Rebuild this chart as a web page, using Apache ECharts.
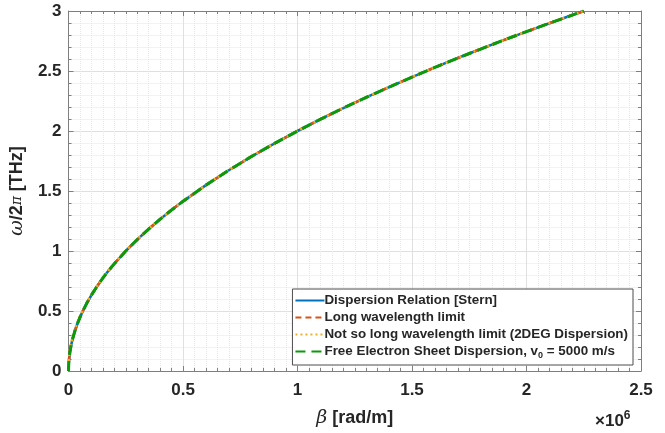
<!DOCTYPE html>
<html>
<head>
<meta charset="utf-8">
<script src="https://cdn.jsdelivr.net/npm/echarts@6/dist/echarts.min.js"></script>
<style>
  html, body { margin: 0; padding: 0; background: #fff; }
  #chart { width: 665px; height: 433px; }
</style>
</head>
<body>
<div id="chart"></div>
<script>
// beta [rad/m]
const beta = [0, 1000, 3000, 6000, 10000, 15000, 20000, 30000, 40000, 50000, 60000,
  80000, 100000, 125000, 150000, 175000, 200000, 250000, 300000, 350000, 400000,
  450000, 500000, 600000, 700000, 800000, 900000, 1000000, 1100000, 1200000, 1300000,
  1400000, 1500000, 1600000, 1700000, 1800000, 1900000, 2000000, 2100000, 2200000, 2250000];

// omega/2pi [THz]
const sternValues = [0, 0.063, 0.11, 0.155, 0.2, 0.245, 0.283, 0.346, 0.4, 0.447, 0.49,
  0.566, 0.632, 0.707, 0.775, 0.837, 0.894, 1.0, 1.095, 1.183, 1.265,
  1.342, 1.414, 1.549, 1.673, 1.789, 1.897, 2.0, 2.098, 2.191, 2.28,
  2.366, 2.449, 2.53, 2.608, 2.683, 2.757, 2.828, 2.898, 2.966, 3.0];
const longValues = [0, 0.063, 0.11, 0.155, 0.2, 0.245, 0.283, 0.346, 0.4, 0.447, 0.49,
  0.566, 0.632, 0.707, 0.775, 0.837, 0.894, 1.0, 1.095, 1.183, 1.265,
  1.342, 1.414, 1.549, 1.673, 1.789, 1.897, 2.0, 2.098, 2.191, 2.28,
  2.366, 2.449, 2.53, 2.608, 2.683, 2.757, 2.828, 2.898, 2.966, 3.0];
const notSoLongValues = [0, 0.08, 0.13, 0.175, 0.22, 0.26, 0.3, 0.36, 0.41, 0.455, 0.497,
  0.572, 0.637, 0.711, 0.778, 0.84, 0.897, 1.002, 1.097, 1.185, 1.266,
  1.343, 1.415, 1.55, 1.674, 1.79, 1.897, 2.0, 2.098, 2.191, 2.28,
  2.366, 2.449, 2.53, 2.608, 2.683, 2.757, 2.828, 2.898, 2.966, 3.0];
const freeSheetValues = [0, 0.063, 0.11, 0.155, 0.2, 0.245, 0.283, 0.346, 0.4, 0.447, 0.49,
  0.566, 0.632, 0.707, 0.775, 0.837, 0.894, 1.0, 1.095, 1.183, 1.265,
  1.342, 1.414, 1.549, 1.673, 1.789, 1.897, 2.0, 2.098, 2.191, 2.28,
  2.366, 2.449, 2.53, 2.608, 2.683, 2.757, 2.828, 2.898, 2.966, 3.0];

const seriesNames = [
  'Dispersion Relation [Stern]',
  'Long wavelength limit',
  'Not so long wavelength limit (2DEG Dispersion)',
  'Free Electron Sheet Dispersion, v0 = 5000 m/s'
];

const pair = (ys) => beta.map((b, i) => [b, ys[i]]);

const chart = echarts.init(document.getElementById('chart'));

const axisColor = '#7f7f7f';
const labelColor = '#262626';
const font = 'Liberation Sans, Arial, sans-serif';

const lineSeries = (name, ys, color, type, width) => ({
  name,
  type: 'line',
  data: pair(ys),
  showSymbol: false,
  symbol: 'none',
  smooth: false,
  lineStyle: { color, type, width, join: 'round' },
  itemStyle: { color },
  animation: false
});

const tickStyle = { color: axisColor };

const option = {
  animation: false,
  grid: { left: 68, right: 24, top: 11, bottom: 60, containLabel: false },
  xAxis: [{
    type: 'value',
    min: 0,
    max: 2500000,
    interval: 500000,
    axisLine: { show: true, onZero: false, lineStyle: { color: axisColor, width: 1 } },
    axisTick: { show: true, inside: true, length: 5, lineStyle: tickStyle },
    minorTick: { show: true, splitNumber: 10, length: 3, lineStyle: tickStyle },
    splitLine: { show: true, lineStyle: { color: '#e0e0e0', width: 1 } },
    minorSplitLine: { show: true, lineStyle: { color: '#e6e6e6', type: 'dotted', width: 1 } },
    axisLabel: {
      color: labelColor, fontFamily: font, fontWeight: 'bold', fontSize: 17, margin: 11,
      formatter: (v) => String(v / 1000000)
    },
    name: '{it|β} [rad/m]',
    nameLocation: 'middle',
    nameGap: 38,
    nameTextStyle: {
      color: labelColor, fontFamily: font, fontWeight: 'bold', fontSize: 18,
      rich: {
        it: { fontFamily: 'DejaVu Serif, serif', fontStyle: 'italic', fontWeight: 'normal', fontSize: 19, color: labelColor }
      }
    }
  }, {
    type: 'value',
    position: 'top',
    min: 0,
    max: 2500000,
    interval: 500000,
    axisLine: { show: true, onZero: false, lineStyle: { color: axisColor, width: 1 } },
    axisTick: { show: true, inside: true, length: 5, lineStyle: tickStyle },
    minorTick: { show: true, splitNumber: 10, length: 3, lineStyle: tickStyle },
    axisLabel: { show: false },
    splitLine: { show: false }
  }],
  yAxis: [{
    type: 'value',
    min: 0,
    max: 3,
    interval: 0.5,
    axisLine: { show: true, onZero: false, lineStyle: { color: axisColor, width: 1 } },
    axisTick: { show: true, inside: true, length: 5, lineStyle: tickStyle },
    minorTick: { show: true, splitNumber: 5, length: 3, lineStyle: tickStyle },
    splitLine: { show: true, lineStyle: { color: '#e0e0e0', width: 1 } },
    minorSplitLine: { show: true, lineStyle: { color: '#e6e6e6', type: 'dotted', width: 1 } },
    axisLabel: {
      color: labelColor, fontFamily: font, fontWeight: 'bold', fontSize: 17, margin: 7,
      formatter: (v) => String(v)
    },
    name: '{it|ω}/2{pi|π} [THz]',
    nameLocation: 'middle',
    nameRotate: 90,
    nameGap: 40,
    nameTextStyle: {
      color: labelColor, fontFamily: font, fontWeight: 'bold', fontSize: 18,
      rich: {
        it: { fontFamily: 'DejaVu Serif, serif', fontStyle: 'italic', fontWeight: 'normal', fontSize: 19, color: labelColor },
        pi: { fontFamily: 'DejaVu Serif, serif', fontStyle: 'italic', fontWeight: 'normal', fontSize: 14, color: labelColor }
      }
    }
  }, {
    type: 'value',
    position: 'right',
    min: 0,
    max: 3,
    interval: 0.5,
    axisLine: { show: true, onZero: false, lineStyle: { color: axisColor, width: 1 } },
    axisTick: { show: true, inside: true, length: 5, lineStyle: tickStyle },
    minorTick: { show: true, splitNumber: 5, length: 3, lineStyle: tickStyle },
    axisLabel: { show: false },
    splitLine: { show: false }
  }],
  legend: {
    orient: 'vertical',
    right: 32,
    bottom: 68,
    backgroundColor: '#fff',
    borderColor: '#4d4d4d',
    borderWidth: 1,
    borderRadius: 0,
    padding: [5, 5, 5, 2],
    itemWidth: 29,
    itemHeight: 10,
    itemGap: 4,
    itemStyle: { opacity: 0 },
    data: seriesNames,
    formatter: (name) => name === seriesNames[3]
      ? 'Free Electron Sheet Dispersion, v{sub|0} = 5000 m/s'
      : name,
    textStyle: {
      color: labelColor, fontFamily: font, fontWeight: 'bold', fontSize: 13.4, padding: [0, 0, 0, -5],
      rich: {
        sub: { fontFamily: font, fontWeight: 'bold', fontSize: 9, verticalAlign: 'bottom', padding: [8, 0, 0, 0], color: labelColor }
      }
    }
  },
  graphic: [{
    type: 'text',
    left: 595,
    top: 410,
    style: {
      text: '×10{sup|6}',
      fill: labelColor,
      font: 'bold 17px Liberation Sans, Arial, sans-serif',
      rich: {
        sup: { fontFamily: font, fontWeight: 'bold', fontSize: 12, padding: [0, 0, 10, 0], verticalAlign: 'top', fill: labelColor }
      }
    }
  }],
  series: [
    lineSeries(seriesNames[0], sternValues, '#0072bd', 'solid', 2.6),
    lineSeries(seriesNames[1], longValues, '#d95319', [6, 4], 2.6),
    lineSeries(seriesNames[2], notSoLongValues, '#edb120', [2, 3], 2.6),
    lineSeries(seriesNames[3], freeSheetValues, '#0a9a0a', [10, 6], 3)
  ]
};

chart.setOption(option);
</script>
</body>
</html>
